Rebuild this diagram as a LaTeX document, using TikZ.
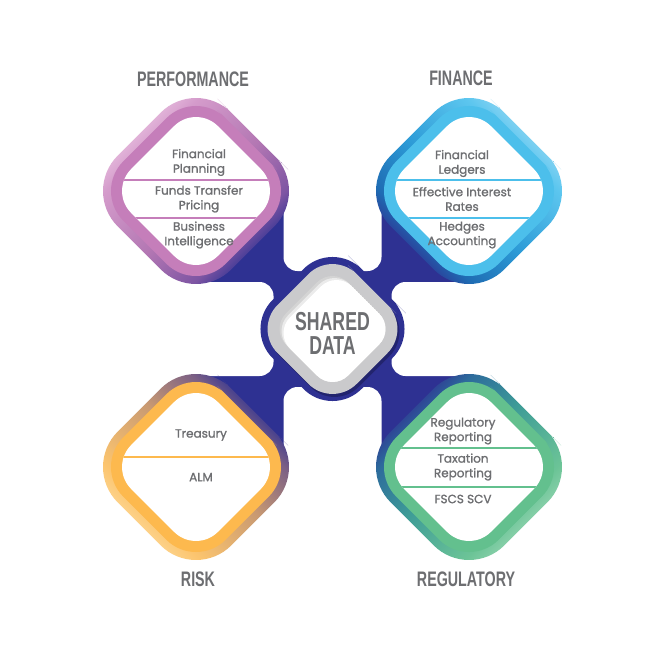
\documentclass[tikz,border=0pt]{standalone}
\usepackage{fontspec}
\usetikzlibrary{calc}
\newfontfamily\headfont{Liberation Sans}[FakeStretch=0.68]
\newfontfamily\bodyfont{Poppins}[FakeBold=1.2]

\definecolor{navy}{HTML}{2E3192}
\definecolor{navydark}{HTML}{22246E}
\definecolor{textgray}{HTML}{6D6E71}
\definecolor{ringgray}{HTML}{CACACC}
\definecolor{perfband}{HTML}{C57EBA}
\definecolor{finband}{HTML}{4CBFEB}
\definecolor{riskband}{HTML}{FDB94E}
\definecolor{regband}{HTML}{63C08E}
\definecolor{perfA}{HTML}{E8BFDF}\definecolor{perfB}{HTML}{D49BCB}
\definecolor{perfC}{HTML}{B377B3}\definecolor{perfD}{HTML}{7E55A3}
\definecolor{finA}{HTML}{90D6F3}\definecolor{finB}{HTML}{5CC6EF}
\definecolor{finC}{HTML}{2C9AD6}\definecolor{finD}{HTML}{1F6CB3}
\definecolor{riskA}{HTML}{FDD896}\definecolor{riskB}{HTML}{FCC56F}
\definecolor{riskC}{HTML}{C99A72}\definecolor{riskD}{HTML}{7A5F85}
\definecolor{regA}{HTML}{95D5B2}\definecolor{regB}{HTML}{6CC497}
\definecolor{regC}{HTML}{3E9C97}\definecolor{regD}{HTML}{2D6B9C}

\pgfdeclarehorizontalshading{perfshade}{100bp}{color(0bp)=(perfA); color(30bp)=(perfA); color(36bp)=(perfB); color(52bp)=(perfC); color(64bp)=(perfD); color(70bp)=(navy); color(100bp)=(navy)}
\pgfdeclarehorizontalshading{finshade}{100bp}{color(0bp)=(finA); color(30bp)=(finA); color(36bp)=(finB); color(52bp)=(finC); color(64bp)=(finD); color(70bp)=(navy); color(100bp)=(navy)}
\pgfdeclarehorizontalshading{riskshade}{100bp}{color(0bp)=(riskA); color(30bp)=(riskA); color(36bp)=(riskB); color(52bp)=(riskC); color(64bp)=(riskD); color(70bp)=(navy); color(100bp)=(navy)}
\pgfdeclarehorizontalshading{regshade}{100bp}{color(0bp)=(regA); color(30bp)=(regA); color(36bp)=(regB); color(52bp)=(regC); color(64bp)=(regD); color(70bp)=(navy); color(100bp)=(navy)}

% diamond outline: centre, half diagonal
\newcommand{\dpath}[2]{([shift={(#1)}]#2/2,-#2/2) -- ([shift={(#1)}]#2,0) -- ([shift={(#1)}]0,#2) -- ([shift={(#1)}]-#2,0) -- ([shift={(#1)}]0,-#2) -- cycle}
% one coloured ring: centre, shading, shading angle, band colour
\newcommand{\petal}[4]{%
  \shade[shading=#2, shading angle=#3, rounded corners=50pt] \dpath{#1}{113.7};
  \fill[#4, rounded corners=42pt] \dpath{#1}{102.4};
  \fill[white, rounded corners=31pt] \dpath{#1}{86.8};
}

\begin{document}
\begin{tikzpicture}[x=1pt, y=-1pt,
  head/.style={font=\headfont\bfseries\fontsize{21}{21}\selectfont, text=textgray},
  hub/.style={font=\headfont\bfseries\fontsize{26}{26}\selectfont, text=textgray, inner sep=0pt},
  item/.style={font=\bodyfont\fontsize{12}{14.6}\selectfont, text=textgray, align=center},
  divider/.style={line width=2pt}
]
  \fill[white] (0,0) rectangle (658,658);
  \useasboundingbox (0,0) rectangle (658,658);

  \coordinate (perf) at (196,191);
  \coordinate (fin)  at (469,191);
  \coordinate (risk) at (196,467);
  \coordinate (reg)  at (469,467);
  \coordinate (C)    at (332.5,329);

  % blue hub with its four notches
  \fill[navy] (perf) rectangle (reg);
  \fill[white, rounded corners=14pt] ($(C)+(-49,-200)$) rectangle ($(C)+(49,-58)$);
  \fill[white, rounded corners=14pt] ($(C)+(-49,58)$) rectangle ($(C)+(49,200)$);
  \fill[white, rounded corners=14pt] ($(C)+(-200,-47)$) rectangle ($(C)+(-59,47)$);
  \fill[white, rounded corners=14pt] ($(C)+(59,-47)$) rectangle ($(C)+(200,47)$);
  \fill[navy, rounded corners=41pt] \dpath{C}{89};
  \fill[navydark, rounded corners=34pt] \dpath{$(C)+(2,3)$}{79};
  \fill[ringgray, rounded corners=34pt] \dpath{C}{79};
  \begin{scope}
    \clip[rounded corners=22pt] \dpath{C}{62.1};
    \fill[black!17] ($(C)+(-80,-80)$) rectangle ($(C)+(80,80)$);
    \fill[black!8, rounded corners=22pt] \dpath{$(C)+(2,2)$}{62.1};
    \fill[white, rounded corners=22pt] \dpath{$(C)+(4,4)$}{62.1};
  \end{scope}
  \node[hub] (shared) at (332.5,322) {SHARED};
  \node[hub] (data)   at (332.5,346) {DATA};

  % rings
  \petal{perf}{perfshade}{-45}{perfband}
  \petal{fin}{finshade}{-135}{finband}
  \petal{risk}{riskshade}{45}{riskband}
  \petal{reg}{regshade}{135}{regband}

  \begin{scope}
    \clip[rounded corners=31pt] \dpath{perf}{86.8};
    \draw[divider, perfband] ($(perf)+(-100,-11)$) -- ++(200,0);
    \draw[divider, perfband] ($(perf)+(-100,27)$) -- ++(200,0);
  \end{scope}
  \begin{scope}
    \clip[rounded corners=31pt] \dpath{fin}{86.8};
    \draw[divider, finband] ($(fin)+(-100,-11)$) -- ++(200,0);
    \draw[divider, finband] ($(fin)+(-100,27)$) -- ++(200,0);
  \end{scope}
  \begin{scope}
    \clip[rounded corners=31pt] \dpath{risk}{86.8};
    \draw[divider, riskband] ($(risk)+(-100,-10)$) -- ++(200,0);
  \end{scope}
  \begin{scope}
    \clip[rounded corners=31pt] \dpath{reg}{86.8};
    \draw[divider, regband] ($(reg)+(-100,-19)$) -- ++(200,0);
    \draw[divider, regband] ($(reg)+(-100,20)$) -- ++(200,0);
  \end{scope}

  % texts
  \node[head] (perf-h) at (193,79) {PERFORMANCE};
  \node[head] (fin-h)  at (461,78) {FINANCE};
  \node[head] (risk-h) at (198,579) {RISK};
  \node[head] (reg-h)  at (466,579) {REGULATORY};

  \node[item] (perf-a) at (199,162.5) {Financial\\Planning};
  \node[item] (perf-b) at (199,199) {Funds Transfer\\Pricing};
  \node[item] (perf-c) at (199,235) {Business\\Intelligence};
  \node[item] (fin-a)  at (462,163.5) {Financial\\Ledgers};
  \node[item] (fin-b)  at (462,199) {Effective Interest\\Rates};
  \node[item] (fin-c)  at (462,235) {Hedges\\Accounting};
  \node[item] (risk-a) at (201,435) {Treasury};
  \node[item] (risk-b) at (201,477) {ALM};
  \node[item] (reg-a)  at (463,431) {Regulatory\\Reporting};
  \node[item] (reg-b)  at (463,467) {Taxation\\Reporting};
  \node[item] (reg-c)  at (463,499) {FSCS SCV};
\end{tikzpicture}
\end{document}
